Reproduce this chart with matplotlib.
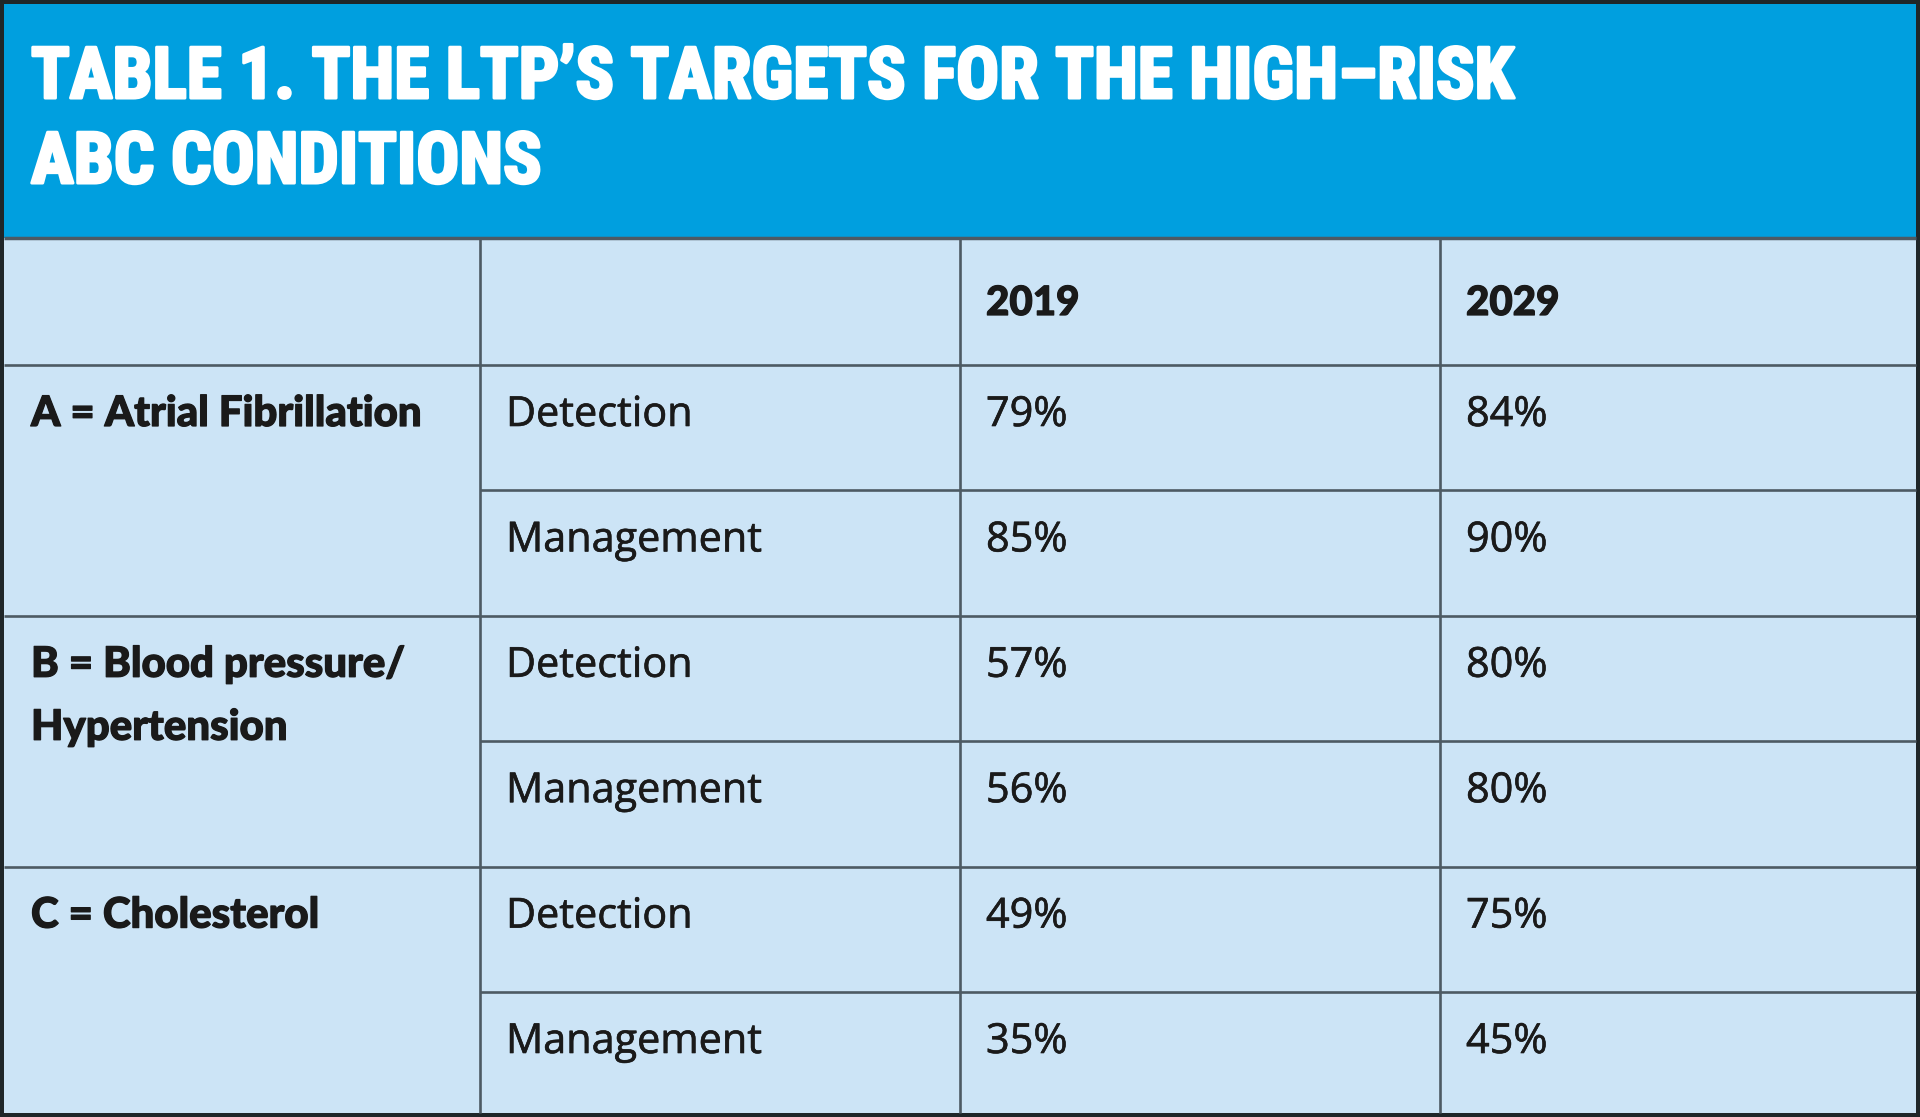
import matplotlib
matplotlib.use("Agg")
import matplotlib.pyplot as plt
from matplotlib import font_manager
import matplotlib.patheffects as pe
from matplotlib.patches import Rectangle

# ---------------- data ----------------
title_lines = ["TABLE 1. THE LTP\u2019S TARGETS FOR THE HIGH\u2013RISK", "ABC CONDITIONS"]
years = ["2019", "2029"]
conditions = [["A = Atrial Fibrillation"], ["B = Blood pressure/", "Hypertension"], ["C = Cholesterol"]]
measures = ["Detection", "Management"]
values_2019 = [79, 85, 57, 56, 49, 35]
values_2029 = [84, 90, 80, 80, 75, 45]

# ---------------- style ----------------
W, H = 1920, 1117
BORDER = "#1f2629"
BLUE = "#009fdf"
CELL = "#cce4f6"
GRID = "#4d5a63"
TEXT = "#1a1a1a"

names = {f.name for f in font_manager.fontManager.ttflist}


def pick(cands, default="DejaVu Sans"):
    for c in cands:
        if c in names:
            return c
    return default


title_font = pick(["Roboto Condensed", "Liberation Sans Narrow", "Open Sans Condensed", "Roboto"])
body_font = pick(["Open Sans", "Lato", "Noto Sans"])
bold_font = pick(["Lato", "Open Sans", "Noto Sans"])

fig = plt.figure(figsize=(W / 100, H / 100), dpi=100)
fig.patch.set_facecolor(BORDER)
ax = fig.add_axes([0, 0, 1, 1])
ax.set_xlim(0, W)
ax.set_ylim(H, 0)
ax.axis("off")

left, right = 4, 1916
top, bottom = 4, 1113
head_top = 238
col_x = [left, 480, 960, 1440, right]
n_rows = len(conditions) * len(measures)
body_top = 365
row_h = 125.4
row_y = [body_top + i * row_h for i in range(n_rows)] + [bottom]

ax.add_patch(Rectangle((left, top), right - left, head_top - top, facecolor=BLUE, edgecolor="none"))
ax.add_patch(Rectangle((left, head_top), right - left, bottom - head_top, facecolor=CELL, edgecolor="none"))

lw = 1.9
ax.plot([left, right], [head_top, head_top], color=GRID, lw=lw + 0.6, solid_capstyle="butt")
for i, y in enumerate(row_y[:-1]):
    x0 = left if i % len(measures) == 0 else col_x[1]
    ax.plot([x0, right], [y, y], color=GRID, lw=lw, solid_capstyle="butt")
for x in col_x[1:-1]:
    ax.plot([x, x], [head_top, bottom], color=GRID, lw=lw, solid_capstyle="butt")

# title
stroke = [pe.withStroke(linewidth=2.2, foreground="white")]
title_kw = dict(color="white", fontfamily=title_font, fontweight="black", va="baseline", ha="left",
                path_effects=stroke)
t1 = ax.text(31, 98, title_lines[0], fontsize=48, **title_kw)
t2 = ax.text(31, 183, title_lines[1], fontsize=48, **title_kw)
fig.canvas.draw()
r = fig.canvas.get_renderer()
wbb = t1.get_window_extent(r).width
target = 1484
if wbb > 0:
    s = min(48 * target / wbb, 54)
    t1.set_fontsize(s)
    t2.set_fontsize(s)

pad = 26
fs = 29.8
fsb = 29.0
fsl = 30.2
bold_fx = [pe.withStroke(linewidth=0.9, foreground=TEXT)]
body_fx = [pe.withStroke(linewidth=0.45, foreground=TEXT)]
# header
for j, yr in enumerate(years):
    ax.text(col_x[2 + j] + pad, head_top + 77, yr, fontsize=fsb, fontweight="black",
            fontfamily=bold_font, color=TEXT, va="baseline", ha="left", path_effects=bold_fx)

# body
line_gap = 63
for i in range(n_rows):
    g, m = divmod(i, len(measures))
    yb = row_y[i] + 61
    if m == 0:
        for k, line in enumerate(conditions[g]):
            ax.text(col_x[0] + 27, yb + k * line_gap, line, fontsize=fsl, fontweight="black",
                    fontfamily=bold_font, color=TEXT, va="baseline", ha="left", path_effects=bold_fx)
    ax.text(col_x[1] + pad, yb, measures[m], fontsize=fs, fontfamily=body_font,
            color=TEXT, va="baseline", ha="left", path_effects=body_fx)
    ax.text(col_x[2] + pad, yb, f"{values_2019[i]}%", fontsize=fs, fontfamily=body_font,
            color=TEXT, va="baseline", ha="left", path_effects=body_fx)
    ax.text(col_x[3] + pad, yb, f"{values_2029[i]}%", fontsize=fs, fontfamily=body_font,
            color=TEXT, va="baseline", ha="left", path_effects=body_fx)

fig.savefig("out.png", dpi=100, facecolor=fig.get_facecolor())
